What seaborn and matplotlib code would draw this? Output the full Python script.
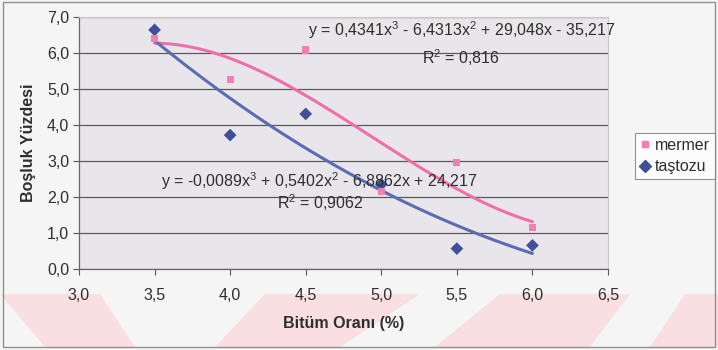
import numpy as np
import pandas as pd
import matplotlib
matplotlib.use("Agg")
import matplotlib.pyplot as plt
from matplotlib.patches import Polygon
from matplotlib.lines import Line2D
from matplotlib.ticker import FuncFormatter
import seaborn as sns

# Void percentage vs bitumen content for two filler types
bitum = [3.5, 4.0, 4.5, 5.0, 5.5, 6.0]
mermer = [6.40, 5.27, 6.09, 2.15, 2.95, 1.15]
tastozu = [6.65, 3.72, 4.31, 2.35, 0.56, 0.65]

# Third-order polynomial trendlines (highest power first)
coef_mermer = [0.4341, -6.4313, 29.048, -35.217]
coef_tastozu = [-0.0089, 0.5402, -6.8862, 24.217]
r2_mermer = 0.816
r2_tastozu = 0.9062

x_ticks = [3.0, 3.5, 4.0, 4.5, 5.0, 5.5, 6.0, 6.5]
y_ticks = [0, 1, 2, 3, 4, 5, 6, 7]

sns.set_theme(style="white")
plt.rcParams["font.family"] = ["Liberation Sans", "DejaVu Sans"]
plt.rcParams["mathtext.fontset"] = "custom"
plt.rcParams["mathtext.rm"] = "Liberation Sans"
plt.rcParams["mathtext.it"] = "Liberation Sans:italic"
plt.rcParams["mathtext.bf"] = "Liberation Sans:bold"

PINK = "#ef6fab"
PINK_M = "#f27fb4"
BLUE = "#5a6cb3"
BLUE_M = "#3f4f98"
TXT = "#2e2e2e"
FS = 11.5

W, H = 718, 350
fig = plt.figure(figsize=(W / 100, H / 100), dpi=100)
fig.patch.set_facecolor("#f6f5f5")


def px(pts):
    return [(x / W, 1 - y / H) for x, y in pts]


# faint diagonal watermark bands along the bottom
bands = [
    [(0, 294), (100, 294), (135, 347), (45, 347)],
    [(265, 294), (420, 294), (340, 347), (215, 347)],
    [(500, 294), (630, 294), (590, 347), (435, 347)],
    [(685, 294), (718, 294), (718, 347), (650, 347)],
]
for b in bands:
    fig.patches.append(Polygon(px(b), closed=True, transform=fig.transFigure,
                               facecolor="#f9dfe2", edgecolor="none", zorder=-1))

# outer frame
fig.patches.append(plt.Rectangle((3 / W, 1 - 347 / H), 712 / W, 345 / H, transform=fig.transFigure,
                                 fill=False, edgecolor="#8f8f8f", linewidth=1.0, zorder=1))

ax = fig.add_axes([79 / W, 1 - 268.7 / H, (608 - 79) / W, (268.7 - 17.3) / H])
ax.set_facecolor("#e8e6ea")

xs = np.linspace(3.5, 6.0, 200)
curves = pd.DataFrame({
    "x": np.concatenate([xs, xs]),
    "y": np.concatenate([np.polyval(coef_mermer, xs), np.polyval(coef_tastozu, xs)]),
    "seri": ["mermer"] * len(xs) + ["taştozu"] * len(xs),
})
sns.lineplot(data=curves, x="x", y="y", hue="seri", palette={"mermer": PINK, "taştozu": BLUE},
             linewidth=2.2, legend=False, ax=ax, zorder=3)

pts_m = pd.DataFrame({"x": bitum, "y": mermer})
pts_t = pd.DataFrame({"x": bitum, "y": tastozu})
sns.scatterplot(data=pts_t, x="x", y="y", marker="D", s=42, color=BLUE_M, edgecolor="none",
                ax=ax, zorder=4)
sns.scatterplot(data=pts_m, x="x", y="y", marker="s", s=26, color=PINK_M, edgecolor="none",
                ax=ax, zorder=4)

ax.set_xlim(3.0, 6.5)
ax.set_ylim(0, 7)
ax.set_xticks(x_ticks)
ax.set_yticks(y_ticks)
comma = FuncFormatter(lambda v, p: f"{v:.1f}".replace(".", ","))
ax.xaxis.set_major_formatter(comma)
ax.yaxis.set_major_formatter(comma)
ax.tick_params(axis="both", direction="out", length=4, width=0.8, color="#555555",
               labelsize=FS, labelcolor=TXT, pad=3, bottom=True, left=True)
ax.tick_params(axis="x", pad=10)

ax.yaxis.grid(True, color="#5a5a5a", linewidth=0.9)
ax.set_axisbelow(True)
for side in ["top", "right"]:
    ax.spines[side].set_color("#c8c8c8")
    ax.spines[side].set_linewidth(0.8)
for side in ["left", "bottom"]:
    ax.spines[side].set_color("#666666")
    ax.spines[side].set_linewidth(0.9)

ax.set_xlabel("Bitüm Oranı (%)", fontsize=FS, fontweight="bold", color=TXT, labelpad=9)
ax.set_ylabel("Boşluk Yüzdesi", fontsize=FS, fontweight="bold", color=TXT, labelpad=8)


def fmt(v, d):
    return f"{abs(v):.{d}f}".replace(".", ",")


eq_m = (f"y = {fmt(coef_mermer[0], 4)}x$^3$ - {fmt(coef_mermer[1], 4)}x$^2$ "
        f"+ {fmt(coef_mermer[2], 3)}x - {fmt(coef_mermer[3], 3)}")
eq_t = (f"y = -{fmt(coef_tastozu[0], 4)}x$^3$ + {fmt(coef_tastozu[1], 4)}x$^2$ "
        f"- {fmt(coef_tastozu[2], 4)}x + {fmt(coef_tastozu[3], 3)}")
txt_kw = dict(fontsize=FS, color=TXT, zorder=5)
ax.text(5.53, 6.65, eq_m, ha="center", va="center", **txt_kw)
ax.text(5.53, 5.89, f"R$^2$ = {fmt(r2_mermer, 3)}", ha="center", va="center", **txt_kw)
ax.text(4.59, 2.44, eq_t, ha="center", va="center", **txt_kw)
ax.text(4.60, 1.83, f"R$^2$ = {fmt(r2_tastozu, 4)}", ha="center", va="center", **txt_kw)

handles = [
    Line2D([], [], marker="s", linestyle="none", color=PINK_M, markersize=5, label="mermer"),
    Line2D([], [], marker="D", linestyle="none", color=BLUE_M, markersize=6, label="taştozu"),
]
leg = fig.legend(handles=handles, loc="upper left", bbox_to_anchor=(635 / W, 1 - 133 / H),
                 frameon=True, fontsize=FS, handlelength=0.6, handletextpad=0.35,
                 borderpad=0.3, labelspacing=0.4, fancybox=False, borderaxespad=0)
leg.get_frame().set_edgecolor("#777777")
leg.get_frame().set_facecolor("#ffffff")
leg.get_frame().set_linewidth(0.8)
for t in leg.get_texts():
    t.set_color(TXT)

fig.savefig("out.png", dpi=100, facecolor=fig.get_facecolor())
